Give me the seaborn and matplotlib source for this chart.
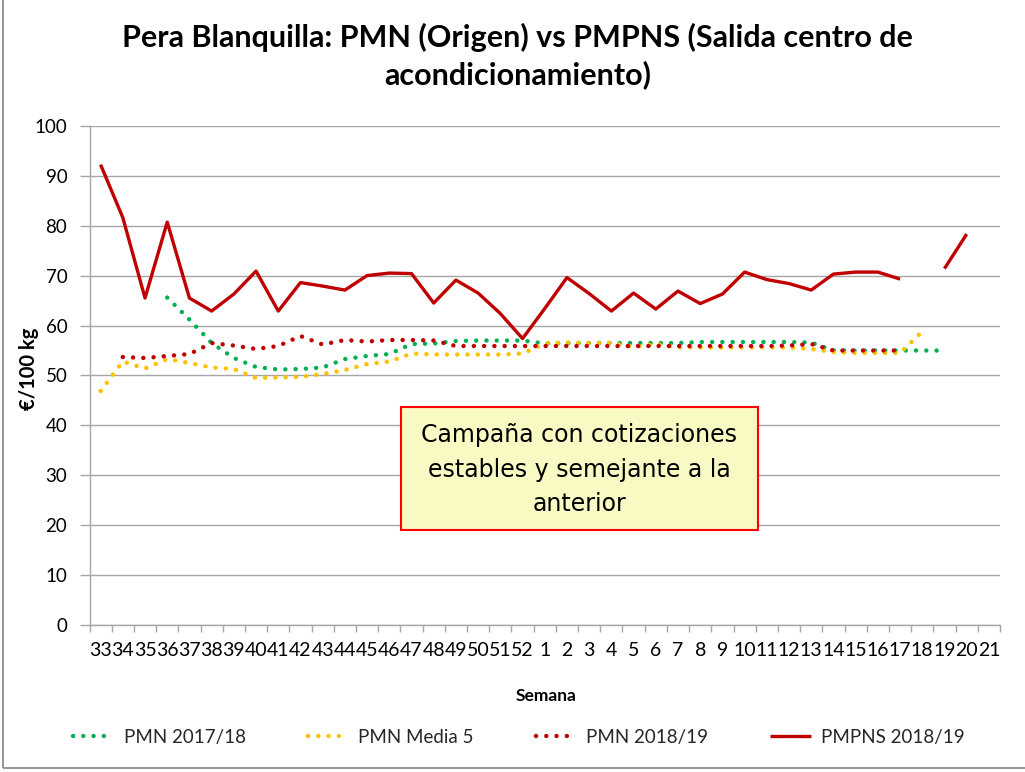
import numpy as np
import pandas as pd
import matplotlib
matplotlib.use("Agg")
import matplotlib.pyplot as plt
from matplotlib.patches import Rectangle
import seaborn as sns

nan = np.nan

# Campaign weeks: 33..52 of the first year, then 1..21 of the next
weeks = list(range(33, 53)) + list(range(1, 22))

pmn_2017_18 = [nan, nan, nan, 65.6, 61.2, 56.5, 53.5, 51.7, 51.2, 51.3,
               51.6, 53.3, 53.9, 54.3, 56.3, 56.4, 56.9, 57.0, 57.0, 57.0,
               56.4, 56.5, 56.5, 56.5, 56.5, 56.5, 56.5, 56.7, 56.7, 56.7,
               56.7, 56.7, 56.6, 55.0, 55.0, 55.0, 55.0, 55.0, 55.0, nan, nan]

pmn_media5 = [46.9, 52.8, 51.4, 53.3, 52.5, 51.6, 51.3, 49.5, 49.6, 49.7,
              50.3, 51.1, 52.3, 52.8, 54.4, 54.2, 54.2, 54.2, 54.2, 54.4,
              56.4, 56.6, 56.5, 56.5, 55.7, 56.3, 55.6, 55.6, 55.6, 55.6,
              55.6, 55.6, 55.3, 54.7, 54.5, 54.5, 54.5, 58.8, nan, nan, nan]

pmn_2018_19 = [nan, 53.7, 53.5, 53.9, 54.3, 56.5, 56.0, 55.3, 55.9, 57.9,
               56.2, 57.1, 56.8, 57.1, 57.1, 57.0, 55.9, 55.9, 55.9, 55.9,
               55.9, 55.9, 55.9, 55.9, 55.9, 55.9, 55.9, 55.9, 55.9, 55.9,
               55.9, 56.0, 56.3, 55.0, 55.0, 55.0, 55.0, nan, nan, nan, nan]

pmpns_2018_19 = [92.2, 81.6, 65.5, 80.7, 65.5, 62.9, 66.3, 70.9, 62.9, 68.6,
                 67.9, 67.1, 70.0, 70.5, 70.4, 64.5, 69.1, 66.5, 62.4, 57.4,
                 63.4, 69.6, 66.4, 62.9, 66.5, 63.3, 66.9, 64.4, 66.3, 70.7,
                 69.2, 68.4, 67.1, 70.3, 70.7, 70.7, 69.3, nan, 71.4, 78.3, nan]

labels = ["PMN 2017/18", "PMN Media 5", "PMN 2018/19", "PMPNS 2018/19"]
colors = ["#00B050", "#FFC000", "#C00000", "#C00000"]

pos = np.arange(len(weeks))
df = pd.DataFrame({
    "pos": pos,
    "semana": weeks,
    labels[0]: pmn_2017_18,
    labels[1]: pmn_media5,
    labels[2]: pmn_2018_19,
    labels[3]: pmpns_2018_19,
})

sns.set_theme(style="white")
plt.rcParams["font.family"] = ["Lato", "DejaVu Sans"]

W, H = 1025, 772
fig = plt.figure(figsize=(W / 100, H / 100), dpi=100)
ax = fig.add_axes([89.5 / W, 1 - 625.3 / H, 910.5 / W, 499.6 / H])

grid_col = "#A6A6A6"

# Dotted series (round dots)
dot_style = (0, (0.01, 2.3))
for name, col in zip(labels[:3], colors[:3]):
    sns.lineplot(data=df, x="pos", y=name, ax=ax, color=col, lw=3.2,
                 linestyle=dot_style, dash_capstyle="round",
                 errorbar=None, label=name, zorder=3)

# Solid series, broken where a week has no quote
p = df[["pos", labels[3]]].copy()
valid = p[labels[3]].notna()
p["tramo"] = (valid != valid.shift()).cumsum()
p = p[valid]
for k, (_, seg) in enumerate(p.groupby("tramo")):
    sns.lineplot(data=seg, x="pos", y=labels[3], ax=ax, color=colors[3],
                 lw=2.4, errorbar=None, label=labels[3] if k == 0 else None,
                 zorder=4, solid_capstyle="butt")

# Axes
ax.set_xlim(-0.5, len(weeks) - 0.5)
ax.set_ylim(0, 100)
ax.set_xticks(pos)
ax.set_xticklabels([str(w) for w in weeks])
ax.set_xticks(np.arange(-0.5, len(weeks)), minor=True)
ax.set_yticks(np.arange(0, 101, 10))
ax.yaxis.grid(True, color=grid_col, lw=1)
ax.xaxis.grid(False)
ax.tick_params(axis="x", which="major", length=0, pad=12, labelsize=14,
               labelcolor="black")
ax.tick_params(axis="x", which="minor", bottom=True, length=5, width=1,
               color=grid_col, direction="out")
ax.tick_params(axis="y", left=True, length=7, width=1, color=grid_col,
               pad=9, labelsize=13.5, labelcolor="black")
for s in ["top", "right"]:
    ax.spines[s].set_visible(False)
for s in ["left", "bottom"]:
    ax.spines[s].set_color(grid_col)
    ax.spines[s].set_linewidth(1)

ax.set_xlabel("Semana", fontsize=12.5, fontweight="bold", color="black")
ax.xaxis.set_label_coords(0.502, -0.1415)
ax.xaxis.label.set_va("center")
ax.set_ylabel("€/100 kg", fontsize=14.5, fontweight="bold", color="black")
ax.yaxis.set_label_coords(-0.0665, 0.513)
ax.yaxis.label.set_va("center")

# Comment box
ax.add_patch(Rectangle((0.342, 0.1908), 0.392, 0.246, transform=ax.transAxes,
                       facecolor="#F9F9C3", edgecolor="#FF0000", lw=1.5,
                       zorder=6))
ax.text(0.538, 0.311,
        "Campaña con cotizaciones\nestables y semejante a la\nanterior",
        transform=ax.transAxes, ha="center", va="center", fontsize=17,
        family=["DejaVu Sans"], linespacing=1.55, color="black", zorder=7)

# Title
fig.text(0.505, 1 - 56 / H,
         "Pera Blanquilla: PMN (Origen) vs PMPNS (Salida centro de\n"
         "acondicionamiento)",
         ha="center", va="center", fontsize=22, fontweight="bold",
         linespacing=1.33, color="black")

# Legend
handles, labs = ax.get_legend_handles_labels()
seen = {}
for h, l in zip(handles, labs):
    if l and l not in seen:
        seen[l] = h
ax.legend([seen[l] for l in labels], labels, loc="center",
          bbox_to_anchor=(0.506, 0.045), bbox_transform=fig.transFigure,
          ncol=4, frameon=False, fontsize=13.5, handlelength=2.2,
          handletextpad=0.5, columnspacing=3.3)

# Chart frame
fig.add_artist(Rectangle((3 / W, 4 / H), 1.2, 1.2, transform=fig.transFigure,
                         fill=False, edgecolor="#8C8C8C", lw=1.3))

fig.savefig("out.png", dpi=100)
